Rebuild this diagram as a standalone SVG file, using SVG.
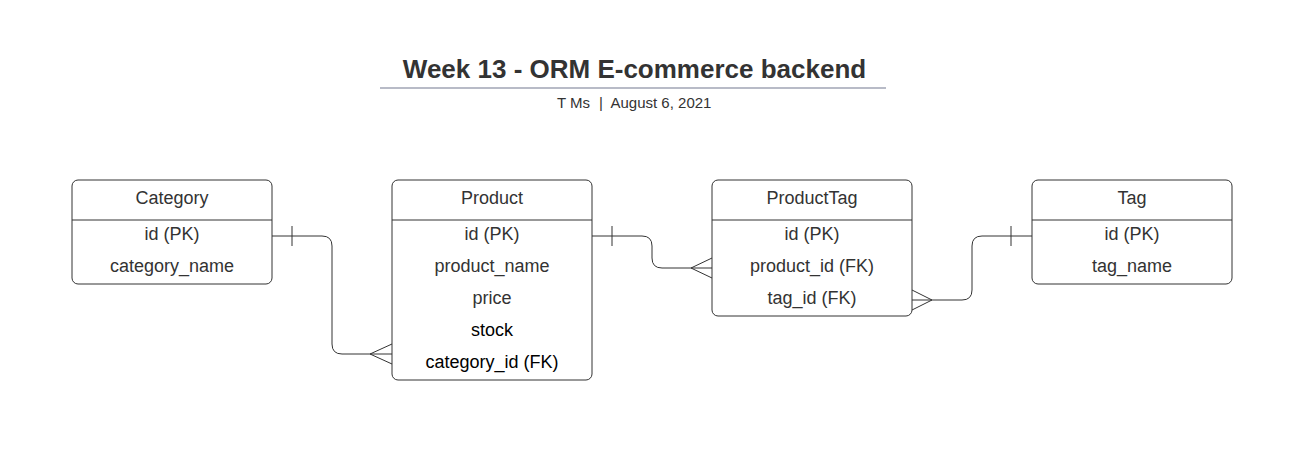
<svg xmlns="http://www.w3.org/2000/svg" width="1308" height="458" viewBox="0 0 1308 458">
<style>
  .box { fill: #ffffff; stroke: #333333; stroke-width: 1; }
  .div { stroke: #333333; stroke-width: 1; }
  .t { font-family: "Liberation Sans", Arial, sans-serif; font-size: 18px; fill: #333333; text-anchor: middle; }
  .dk { fill: #000000; }
  .conn { fill: none; stroke: #333333; stroke-width: 1; }
</style>
<rect width="1308" height="458" fill="#ffffff"/>
<g id="title">
  <text x="634.5" y="78" font-family="Liberation Sans, Arial, sans-serif" font-size="26" font-weight="bold" fill="#333333" text-anchor="middle">Week 13 - ORM E-commerce backend</text>
  <line x1="380" y1="88" x2="886" y2="88" stroke="#a0a4b4" stroke-width="1.5"/>
  <text x="557" y="108" font-family="Liberation Sans, Arial, sans-serif" font-size="15" fill="#333333">T Ms</text>
  <text x="601" y="108" font-family="Liberation Sans, Arial, sans-serif" font-size="15" fill="#333333" text-anchor="middle">|</text>
  <text x="610.5" y="108" font-family="Liberation Sans, Arial, sans-serif" font-size="15" fill="#333333">August 6, 2021</text>
</g>
<g id="category">
  <rect class="box" x="72" y="180" width="200" height="104" rx="6"/>
  <line class="div" x1="72" y1="220" x2="272" y2="220"/>
  <text class="t" x="172" y="204">Category</text>
  <text class="t" x="172" y="240">id (PK)</text>
  <text class="t" x="172" y="272">category_name</text>
</g>
<g id="product">
  <rect class="box" x="392" y="180" width="200" height="200" rx="6"/>
  <line class="div" x1="392" y1="220" x2="592" y2="220"/>
  <text class="t" x="492" y="204">Product</text>
  <text class="t" x="492" y="240">id (PK)</text>
  <text class="t" x="492" y="272">product_name</text>
  <text class="t" x="492" y="304">price</text>
  <text class="t dk" x="492" y="336">stock</text>
  <text class="t dk" x="492" y="368">category_id (FK)</text>
</g>
<g id="producttag">
  <rect class="box" x="712" y="180" width="200" height="136" rx="6"/>
  <line class="div" x1="712" y1="220" x2="912" y2="220"/>
  <text class="t" x="812" y="204">ProductTag</text>
  <text class="t" x="812" y="240">id (PK)</text>
  <text class="t" x="812" y="272">product_id (FK)</text>
  <text class="t" x="812" y="304">tag_id (FK)</text>
</g>
<g id="tag">
  <rect class="box" x="1032" y="180" width="200" height="104" rx="6"/>
  <line class="div" x1="1032" y1="220" x2="1232" y2="220"/>
  <text class="t" x="1132" y="204">Tag</text>
  <text class="t" x="1132" y="240">id (PK)</text>
  <text class="t" x="1132" y="272">tag_name</text>
</g>
<g id="connectors">
  <path class="conn" d="M272,236 H322 Q332,236 332,246 V344 Q332,354 342,354 H392"/>
  <path class="conn" d="M292,226 V246 M370,354 L392,344 M370,354 L392,364"/>
  <path class="conn" d="M592,236 H642 Q652,236 652,246 V258 Q652,268 662,268 H712"/>
  <path class="conn" d="M612,226 V246 M691,268 L712,258 M691,268 L712,278"/>
  <path class="conn" d="M912,300 H962 Q972,300 972,290 V246 Q972,236 982,236 H1032"/>
  <path class="conn" d="M1011,226 V246 M932,300 L912,290 M932,300 L912,310"/>
</g>
</svg>
